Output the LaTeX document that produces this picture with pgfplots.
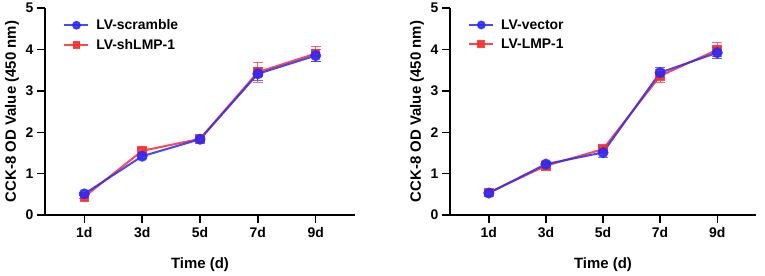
\documentclass[border=0pt]{standalone}
\usepackage{pgfplots}
\pgfplotsset{compat=1.18}
\usepackage{fontspec}
\setmainfont{Liberation Sans}
\definecolor{myblue}{RGB}{40,40,255}
\definecolor{myred}{RGB}{255,40,40}
\pgfplotsset{
  cck/.style={
    scale only axis,
    height=207bp,
    xmin=-0.68, xmax=4.68,
    ymin=0, ymax=5,
    ytick={0,1,2,3,4,5},
    xtick={0,1,2,3,4},
    xticklabels={1d,3d,5d,7d,9d},
    axis x line*=bottom, axis y line*=left,
    axis line style={line width=1.4bp,-},
    every tick/.style={line width=1.4bp,black},
    tick align=outside,
    major tick length=8bp,
    /pgf/number format/assume math mode=true,
    tick label style={font=\fontsize{14}{16}\selectfont\bfseries},
    xticklabel style={yshift=-1bp},
    label style={font=\fontsize{15}{17}\selectfont\bfseries},
    xlabel={Time (d)},
    ylabel={CCK-8 OD Value (450 nm)},
    xlabel style={yshift=-13bp},
    ylabel style={yshift=0bp},
    legend style={at={(0.05,0.965)},anchor=north west,draw=none,fill=none,
      font=\fontsize{14}{16}\selectfont\bfseries,row sep=4bp},
    legend cell align=left,
    reverse legend,
    legend image code/.code={\draw[line width=1.6bp,mark repeat=2,mark phase=2,mark options={scale=0.8}] plot coordinates {(0bp,0bp) (12bp,0bp) (24bp,0bp)};},
    error bars/error bar style={line width=0.8bp,opacity=0.7},
    error bars/error mark options={rotate=90,mark size=5bp,line width=0.8bp},
  },
  redline/.style={myred,opacity=0.85,line width=2bp,mark=square*,mark size=3.8bp,mark options={solid,fill=myred},
     error bars/.cd,y dir=both,y explicit},
  blueline/.style={myblue,opacity=0.85,line width=2bp,mark=*,mark size=4.5bp,mark options={solid,fill=myblue},
     error bars/.cd,y dir=both,y explicit},
}
\begin{document}
\begin{tikzpicture}[x=1bp,y=1bp]
\path[use as bounding box] (0,0) rectangle (765,275);
\begin{axis}[cck, at={(45bp,60bp)}, anchor=south west, width=310bp]
\addplot[redline] coordinates {
 (0,0.44) +- (0,0.05)
 (1,1.55) +- (0,0.05)
 (2,1.84) +- (0,0.06)
 (3,3.45) +- (0,0.24)
 (4,3.90) +- (0,0.18)
};
\addlegendentry{\hspace{5bp}LV-shLMP-1}
\addplot[blueline] coordinates {
 (0,0.51) +- (0,0.04)
 (1,1.42) +- (0,0.05)
 (2,1.83) +- (0,0.05)
 (3,3.41) +- (0,0.15)
 (4,3.85) +- (0,0.15)
};
\addlegendentry{\hspace{5bp}LV-scramble}
\end{axis}
\begin{axis}[cck, at={(450bp,60bp)}, anchor=south west, width=306bp]
\addplot[redline] coordinates {
 (0,0.54) +- (0,0.05)
 (1,1.19) +- (0,0.06)
 (2,1.59) +- (0,0.07)
 (3,3.36) +- (0,0.15)
 (4,3.99) +- (0,0.17)
};
\addlegendentry{\hspace{5bp}LV-LMP-1}
\addplot[blueline] coordinates {
 (0,0.53) +- (0,0.04)
 (1,1.23) +- (0,0.04)
 (2,1.51) +- (0,0.11)
 (3,3.44) +- (0,0.12)
 (4,3.92) +- (0,0.14)
};
\addlegendentry{\hspace{5bp}LV-vector}
\end{axis}
\end{tikzpicture}
\end{document}
